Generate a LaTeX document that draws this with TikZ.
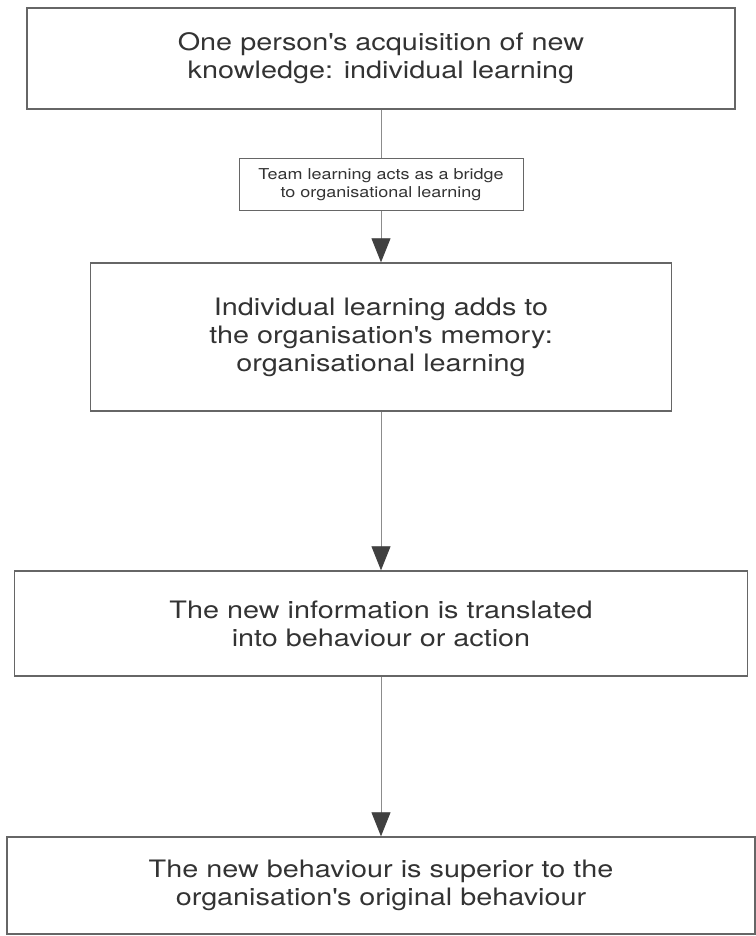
\documentclass[tikz,border=0pt]{standalone}
\usepackage{fontspec}
\setmainfont{TeX Gyre Heros}[FakeStretch=1.2]
\usetikzlibrary{arrows.meta}
\tikzset{
  stage/.style  = {draw=black!60, line width=1.4pt, align=center, inner sep=4pt,
                   text=black!80, font=\fontsize{24}{28}\selectfont},
  bridge/.style = {draw=black!60, line width=1pt, align=center, inner sep=3pt,
                   text=black!80, font=\fontsize{15}{18}\selectfont},
  link/.style   = {draw=black!45, line width=0.8pt},
  flow/.style   = {link, -{Triangle[length=24pt, width=19pt, color=black!75]}}
}
\newcommand{\q}{\textquotesingle}

\begin{document}
\begin{tikzpicture}[x=1pt, y=-1pt]  % pixel-like units, y runs down the page
  \useasboundingbox (0,0) rectangle (755,936);

  %  --  the chain of stages, top to bottom
  \node[stage, minimum width=708pt, minimum height=101pt] (indiv) at (381,58.5)
    {One person\q s acquisition of new\\knowledge: individual learning};
  \node[bridge, minimum width=284pt, minimum height=51pt] (team) at (381,184.5)
    {Team learning acts as a bridge\\to organisational learning};
  \node[stage, minimum width=581pt, minimum height=148pt] (orgmem) at (381,337)
    {Individual learning adds to\\the organisation\q s memory:\\organisational learning};
  \node[stage, minimum width=733pt, minimum height=105pt] (action) at (381,623.5)
    {The new information is translated\\into behaviour or action};
  \node[stage, minimum width=748pt, minimum height=97pt] (better) at (381,885.5)
    {The new behaviour is superior to the\\organisation\q s original behaviour};

  %  --  connectors
  \draw[link] (indiv.south) -- (team.north);
  \draw[flow] (team.south) -- (orgmem.north);
  \draw[flow] (orgmem.south) -- (action.north);
  \draw[flow] (action.south) -- (better.north);
\end{tikzpicture}
\end{document}
